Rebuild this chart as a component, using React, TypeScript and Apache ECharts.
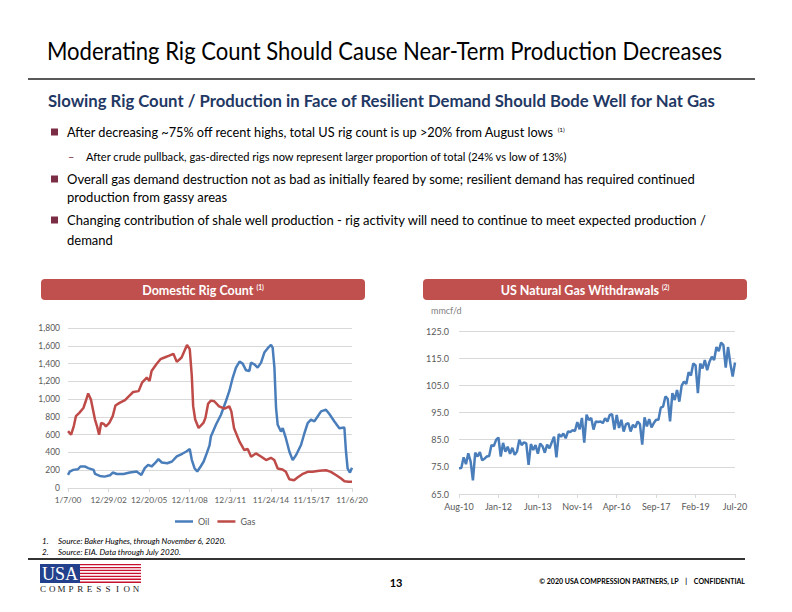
import React, { useEffect, useRef } from "react";
import * as echarts from "echarts";

// ---------- Data ----------
const rigTickLabels = ["1/7/00", "12/29/02", "12/20/05", "12/11/08", "12/3/11", "11/24/14", "11/15/17", "11/6/20"];
const rigStartYear = 2000.02;
const rigEndYear = 2020.85;

// [decimal year, rig count]
const oilPoints: number[][] = [
  [2000.02, 147], [2000.15, 185], [2000.4, 204], [2000.75, 211], [2000.93, 242], [2001.25, 242],
  [2001.5, 223], [2001.9, 204], [2002.0, 158], [2002.35, 136], [2002.7, 128], [2003.1, 143],
  [2003.3, 174], [2003.6, 158], [2004.1, 158], [2004.55, 174], [2005.05, 185], [2005.4, 147],
  [2005.65, 223], [2005.9, 260], [2006.15, 242], [2006.4, 279], [2006.65, 325], [2006.9, 287],
  [2007.3, 279], [2007.65, 298], [2008.0, 355], [2008.4, 385], [2008.7, 411], [2008.95, 438],
  [2009.1, 317], [2009.3, 223], [2009.5, 185], [2009.75, 242], [2009.97, 298], [2010.2, 392],
  [2010.4, 480], [2010.5, 579], [2010.87, 711], [2011.24, 824], [2011.6, 976], [2011.85, 1089],
  [2012.1, 1240], [2012.34, 1354], [2012.6, 1422], [2012.83, 1399], [2013.08, 1324], [2013.32, 1316],
  [2013.44, 1410], [2013.69, 1392], [2013.93, 1354], [2014.18, 1410], [2014.42, 1524], [2014.67, 1573],
  [2014.91, 1611], [2015.03, 1580], [2015.16, 1354], [2015.28, 900], [2015.4, 711], [2015.64, 635],
  [2015.77, 673], [2016.0, 560], [2016.26, 408], [2016.5, 314], [2016.75, 371], [2017.11, 484],
  [2017.36, 616], [2017.6, 730], [2017.84, 768], [2018.09, 749], [2018.33, 805], [2018.58, 862],
  [2018.94, 881], [2019.19, 832], [2019.56, 749], [2019.92, 673], [2020.29, 681], [2020.41, 408],
  [2020.53, 219], [2020.7, 174], [2020.85, 227],
];

const gasPoints: number[][] = [
  [2000.02, 640], [2000.25, 600], [2000.45, 700], [2000.6, 808], [2000.85, 845], [2001.15, 900],
  [2001.35, 990], [2001.5, 1064], [2001.7, 996], [2002.0, 770], [2002.15, 694], [2002.3, 600],
  [2002.45, 732], [2002.65, 720], [2002.8, 694], [2003.05, 732], [2003.3, 808], [2003.5, 928],
  [2003.8, 958], [2004.2, 989], [2004.55, 1042], [2004.8, 1080], [2005.2, 1090], [2005.45, 1185],
  [2005.8, 1242], [2006.0, 1204], [2006.15, 1317], [2006.5, 1392], [2006.8, 1449], [2007.1, 1468],
  [2007.4, 1487], [2007.75, 1510], [2008.0, 1419], [2008.35, 1468], [2008.75, 1608], [2008.95, 1562],
  [2009.1, 1260], [2009.2, 921], [2009.35, 770], [2009.6, 675], [2009.95, 732], [2010.1, 789],
  [2010.3, 950], [2010.5, 983], [2010.75, 976], [2011.1, 919], [2011.5, 892], [2011.85, 919],
  [2012.0, 862], [2012.2, 673], [2012.6, 522], [2012.95, 427], [2013.2, 439], [2013.45, 352],
  [2013.8, 389], [2014.2, 352], [2014.55, 314], [2014.9, 340], [2015.15, 314], [2015.4, 219],
  [2015.75, 208], [2016.0, 182], [2016.25, 98], [2016.6, 87], [2016.85, 117], [2017.2, 155],
  [2017.6, 182], [2017.95, 182], [2018.45, 193], [2018.95, 200], [2019.3, 182], [2019.7, 144],
  [2020.05, 106], [2020.3, 76], [2020.6, 70], [2020.85, 70],
];

const withdrawalTickLabels = ["Aug-10", "Jan-12", "Jun-13", "Nov-14", "Apr-16", "Sep-17", "Feb-19", "Jul-20"];
// Monthly, Aug-2010 .. Jul-2020 (mmcf/d, thousands)
const withdrawals: number[] = [
  74.5, 74.6, 78.5, 76.0, 80.0, 77.0, 70.0, 80.2, 78.8, 80.4,
  77.4, 78.0, 78.8, 79.0, 83.0, 82.6, 84.9, 85.8, 78.8, 83.8,
  80.6, 82.4, 79.8, 82.0, 79.4, 80.6, 85.0, 83.0, 84.0, 83.6,
  75.7, 83.4, 81.2, 83.0, 79.8, 83.6, 82.6, 80.2, 83.2, 81.8,
  84.0, 86.1, 78.5, 87.0, 86.1, 87.3, 85.5, 88.0, 87.8, 88.5,
  88.2, 91.5, 88.8, 93.0, 83.9, 94.2, 92.2, 93.0, 88.7, 91.7,
  91.5, 91.7, 91.1, 92.9, 91.7, 94.1, 94.4, 88.7, 94.1, 89.3,
  92.3, 88.0, 90.7, 91.1, 88.0, 90.5, 89.5, 91.7, 90.7, 83.2,
  93.2, 89.9, 92.6, 89.5, 91.1, 92.3, 92.3, 96.8, 97.2, 100.9,
  100.0, 91.7, 102.1, 99.6, 103.3, 99.0, 104.9, 106.4, 105.5, 109.8,
  108.6, 113.0, 112.4, 102.1, 113.0, 111.2, 114.3, 110.6, 113.7, 115.5,
  114.3, 119.1, 117.6, 120.7, 119.8, 111.5, 119.1, 113.0, 108.2, 113.4,
];

const monthNames = ["Jan", "Feb", "Mar", "Apr", "May", "Jun", "Jul", "Aug", "Sep", "Oct", "Nov", "Dec"];
const monthCategories: string[] = withdrawals.map((_, i) => {
  const m = 7 + i;
  const yr = 2010 + Math.floor(m / 12);
  return monthNames[m % 12] + "-" + String(yr % 100).padStart(2, "0");
});

const FONT = "Lato, 'Open Sans', sans-serif";
const SERIF = "'Liberation Serif', 'DejaVu Serif', serif";
const OIL = "#4A7EBB";
const GAS = "#BE4B48";
const MAROON = "#7B2D45";
const NAVY = "#1F3864";

const rigStep = (rigEndYear - rigStartYear) / 7;
const toU = (yr: number) => (yr - rigStartYear) / rigStep;

function txt(text: string, x: number, y: number, opts: any = {}) {
  const { rich, scaleX, ...rest } = opts;
  return {
    type: "text",
    x,
    y,
    scaleX: scaleX ?? 1,
    silent: true,
    style: {
      text,
      fontFamily: FONT,
      fontSize: 13,
      fill: "#000",
      align: "left",
      verticalAlign: "middle",
      ...(rich ? { rich } : {}),
      ...rest,
    },
  };
}

export default function App() {
  const ref = useRef<HTMLDivElement>(null);

  useEffect(() => {
    if (!ref.current) return;
    const chart = echarts.init(ref.current, undefined, { renderer: "svg" });

    const supRich = (size: number, color: string, bold = false) => ({
      sup: { fontSize: size, fill: color, fontFamily: FONT, fontWeight: bold ? "bold" : "normal", padding: [0, 0, 6, 0] },
    });

    const graphics: any[] = [];
    // Title
    graphics.push(txt("Moderating Rig Count Should Cause Near-Term Production Decreases", 47, 50, { fontSize: 26, scaleX: 0.848 }));
    graphics.push({ type: "line", silent: true, shape: { x1: 28, y1: 79, x2: 755, y2: 79 }, style: { stroke: "#222", lineWidth: 1.5 } });
    graphics.push(txt("Slowing Rig Count / Production in Face of Resilient Demand Should Bode Well for Nat Gas", 48, 100, { fontSize: 17.5, fontWeight: "bold", fill: NAVY, scaleX: 0.954 }));

    // Bullets
    const sq = (y: number) => ({ type: "rect", silent: true, shape: { x: 51, y: y - 3.5, width: 7, height: 7 }, style: { fill: MAROON } });
    graphics.push(sq(132));
    graphics.push(txt("After decreasing ~75% off recent highs, total US rig count is up >20% from August lows {sup|(1)}", 67, 132, { fontSize: 13, scaleX: 0.98, rich: supRich(6.5, "#000") }));
    graphics.push(txt("–", 68, 156, { fontSize: 11, fill: MAROON }));
    graphics.push(txt("After crude pullback, gas-directed rigs now represent larger proportion of total (24% vs low of 13%)", 86, 156, { fontSize: 11.1 }));
    graphics.push(sq(179));
    graphics.push(txt("Overall gas demand destruction not as bad as initially feared by some; resilient demand has required continued", 67, 179, { fontSize: 13 }));
    graphics.push(txt("production from gassy areas", 67, 197, { fontSize: 13 }));
    graphics.push(sq(220));
    graphics.push(txt("Changing contribution of shale well production - rig activity will need to continue to meet expected production /", 67, 220, { fontSize: 13 }));
    graphics.push(txt("demand", 67, 240, { fontSize: 13 }));

    // Chart headers
    const header = (x: number, label: string, note: string) => {
      graphics.push({ type: "rect", silent: true, shape: { x, y: 279, width: 324, height: 21, r: 4 }, style: { fill: "#C0504D" } });
      graphics.push(txt(label + " {sup|" + note + "}", x + 162, 290, { fontSize: 12.5, fontWeight: "bold", fill: "#fff", align: "center", rich: supRich(6.5, "#fff", true) }));
    };
    header(41, "Domestic Rig Count", "(1)");
    header(423, "US Natural Gas Withdrawals", "(2)");
    graphics.push(txt("mmcf/d", 431, 310, { fontSize: 9, fill: "#7F7F7F" }));

    // Footnotes
    graphics.push(txt("1.", 42, 541, { fontSize: 8, fontStyle: "italic" }));
    graphics.push(txt("Source: Baker Hughes, through November 6, 2020.", 58, 541, { fontSize: 8, fontStyle: "italic" }));
    graphics.push(txt("2.", 42, 552, { fontSize: 8, fontStyle: "italic" }));
    graphics.push(txt("Source: EIA. Data through July 2020.", 58, 552, { fontSize: 8, fontStyle: "italic" }));
    graphics.push({ type: "line", silent: true, shape: { x1: 28, y1: 559, x2: 745, y2: 559 }, style: { stroke: "#333", lineWidth: 2 } });

    // Logo
    graphics.push({ type: "rect", silent: true, shape: { x: 40, y: 564, width: 40, height: 19 }, style: { fill: "#22408C" } });
    graphics.push(txt("USA", 60, 574, { fontSize: 18, fontFamily: SERIF, fill: "#fff", align: "center" }));
    for (let i = 0; i < 13; i++) {
      graphics.push({
        type: "rect", silent: true,
        shape: { x: 80, y: 564 + i * (19 / 13), width: 61, height: 19 / 13 },
        style: { fill: i % 2 === 0 ? "#C8102E" : "#ffffff" },
      });
    }
    "COMPRESSION".split("").forEach((ch, i) => {
      graphics.push(txt(ch, 43 + i * 9.3, 589, { fontSize: 9, fontFamily: SERIF, fill: "#222", align: "center" }));
    });
    graphics.push(txt("13", 396, 582, { fontSize: 11, fontWeight: "bold", align: "center" }));
    graphics.push(txt("© 2020 USA COMPRESSION PARTNERS, LP    |    CONFIDENTIAL", 745, 581, { fontSize: 7, fontWeight: "bold", align: "right" }));

    const axisLabelStyle = { color: "#595959", fontSize: 9, fontFamily: FONT };

    chart.setOption({
      animation: false,
      graphic: graphics,
      grid: [
        { left: 68, right: 792 - 352, top: 328, bottom: 612 - 488 },
        { left: 459, right: 792 - 735, top: 331, bottom: 612 - 494 },
      ],
      legend: {
        data: ["Oil", "Gas"],
        left: 170,
        top: 512,
        icon: "rect",
        itemWidth: 18,
        itemHeight: 2.5,
        itemGap: 8,
        textStyle: { color: "#595959", fontSize: 9, fontFamily: FONT },
      },
      xAxis: [
        {
          gridIndex: 0, type: "value", min: 0, max: 7, interval: 1,
          axisLabel: { ...axisLabelStyle, fontSize: 8.3, margin: 8, formatter: (v: number) => rigTickLabels[Math.round(v)] ?? "" },
          axisLine: { lineStyle: { color: "#D9D9D9" } },
          axisTick: { show: true, length: 4, lineStyle: { color: "#D9D9D9" } },
          splitLine: { show: false },
        },
        {
          gridIndex: 1, type: "category", boundaryGap: false, data: monthCategories,
          axisLabel: { ...axisLabelStyle, margin: 8, interval: 16 },
          axisLine: { lineStyle: { color: "#D9D9D9" } },
          axisTick: { show: true, interval: 16, length: 4, lineStyle: { color: "#D9D9D9" } },
          splitLine: { show: false },
        },
      ],
      yAxis: [
        {
          gridIndex: 0, type: "value", min: 0, max: 1800, interval: 200,
          axisLabel: { ...axisLabelStyle, fontSize: 8.5, margin: 8, formatter: (v: number) => v.toLocaleString("en-US") },
          axisLine: { show: false }, axisTick: { show: false },
          splitLine: { lineStyle: { color: "#D9D9D9" } },
        },
        {
          gridIndex: 1, type: "value", min: 65, max: 125, interval: 10,
          axisLabel: { ...axisLabelStyle, margin: 10, formatter: (v: number) => v.toFixed(1) },
          axisLine: { show: false }, axisTick: { show: false },
          splitLine: { lineStyle: { color: "#D9D9D9" } },
        },
      ],
      series: [
        {
          name: "Oil", type: "line", xAxisIndex: 0, yAxisIndex: 0, showSymbol: false,
          data: oilPoints.map(([y, v]) => [toU(y), v]),
          lineStyle: { color: OIL, width: 2.5 }, itemStyle: { color: OIL },
        },
        {
          name: "Gas", type: "line", xAxisIndex: 0, yAxisIndex: 0, showSymbol: false,
          data: gasPoints.map(([y, v]) => [toU(y), v]),
          lineStyle: { color: GAS, width: 2.5 }, itemStyle: { color: GAS },
        },
        {
          name: "Withdrawals", type: "line", xAxisIndex: 1, yAxisIndex: 1, showSymbol: false,
          data: withdrawals,
          lineStyle: { color: OIL, width: 2.5 }, itemStyle: { color: OIL },
        },
      ],
    });

    return () => chart.dispose();
  }, []);

  return <div ref={ref} style={{ position: "absolute", left: 0, top: 0, width: 792, height: 612, background: "#fff" }} />;
}
